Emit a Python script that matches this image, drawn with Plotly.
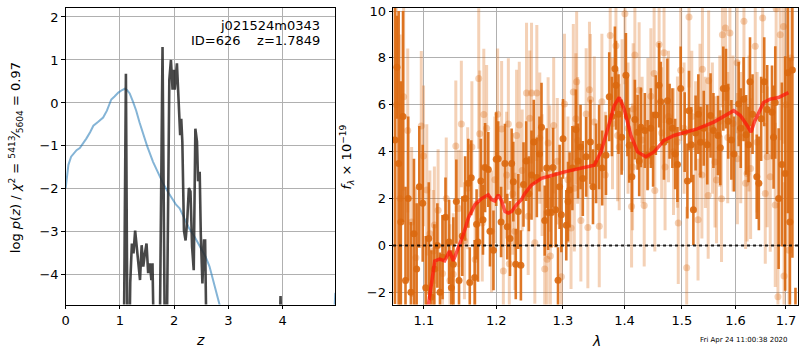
import plotly.graph_objects as go

# ---------------- Left panel: redshift PDF ----------------
z_chi = [0.0, 0.05, 0.1, 0.14, 0.2, 0.26, 0.32, 0.38, 0.45, 0.51, 0.6, 0.69, 0.76, 0.84, 0.9,
         0.97, 1.04, 1.09, 1.13, 1.18, 1.24, 1.30, 1.36, 1.42, 1.5, 1.61, 1.7, 1.79, 1.9, 2.03,
         2.1, 2.16, 2.28, 2.37, 2.46, 2.58, 2.65, 2.70, 2.77, 2.83, 2.9, 4.9, 4.94, 4.97]
logp_chi = [-1.98, -1.44, -1.25, -1.18, -1.1, -1.05, -0.95, -0.83, -0.68, -0.53, -0.44, -0.34,
            -0.18, 0.08, 0.15, 0.24, 0.3, 0.33, 0.3, 0.22, 0.03, -0.18, -0.45, -0.7, -1.0, -1.37,
            -1.6, -1.86, -2.1, -2.36, -2.45, -2.6, -2.93, -3.1, -3.3, -3.58, -3.8, -4.04, -4.35,
            -4.61, -5.0, -6.0, -4.9, -4.42]

z_pz = [0.98, 1.07, 1.11, 1.14, 1.17, 1.19, 1.22, 1.25, 1.28, 1.31, 1.34, 1.37, 1.40, 1.43, 1.46,
        1.49, 1.52, 1.55, 1.58, 1.60, 1.63, 1.73, 1.785, 1.83, 1.86, 1.91, 1.94, 1.97, 1.99, 2.01,
        2.05, 2.07, 2.11, 2.13, 2.15, 2.18, 2.21, 2.24, 2.27, 2.30, 2.33, 2.36, 2.39, 2.42, 2.44,
        2.47, 2.49, 2.52, 2.55, 2.57, 2.60, 3.93, 3.96, 3.99, 4.97]
logp_pz = [-6, -6, 0.68, -6, -6, -4.18, -3.27, -3.5, -2.97, -3.35, -3.81, -4.12, -3.31, -3.81, -3.5,
           -3.27, -3.96, -3.73, -4.12, -3.73, -6, -6, 1.3, -6, -6, 0.54, 1.0, 0.31, 0.77, 0.31,
           0.92, 0.38, -0.75, -0.37, -0.9, -2.97, -3.2, -2.74, -1.98, -2.06, -3.35, -3.89, -0.6,
           -0.9, -1.82, -1.6, -3.05, -4.2, -3.2, -3.2, -6, -6, -4.49, -6, -6]

z_ticks = [0, 1, 2, 3, 4]
logp_ticks = [-4, -3, -2, -1, 0, 1, 2]

# ---------------- Right panel: spectrum ----------------
dark_lam = [1.0625, 1.0650, 1.0672, 1.0700, 1.0728, 1.0760, 1.0795, 1.0830, 1.0870, 1.0905, 1.0940,
            1.0985, 1.1025, 1.1065, 1.1100, 1.1140, 1.1180, 1.1215, 1.1250, 1.1290, 1.1339, 1.1370,
            1.1397, 1.1438, 1.1475, 1.1520, 1.1560, 1.1604, 1.1624, 1.1645, 1.1693, 1.1720, 1.1740,
            1.1780, 1.1810, 1.1840, 1.1886, 1.1910, 1.1960, 1.2000, 1.2029, 1.2070, 1.2126, 1.2160,
            1.2200, 1.2224, 1.2249, 1.2285, 1.2322, 1.2361, 1.2400, 1.2440, 1.2480, 1.2520, 1.2554,
            1.2600, 1.2640, 1.2671, 1.2720, 1.2750, 1.2772, 1.2822, 1.2848, 1.2888, 1.2925, 1.2950,
            1.2977, 1.3003, 1.3054, 1.3081, 1.3106, 1.3150, 1.3206, 1.3240, 1.3280, 1.3316, 1.3370,
            1.3438, 1.3480, 1.3530, 1.3580, 1.3630, 1.3692, 1.3746, 1.3790, 1.3840, 1.3857, 1.3900,
            1.3952, 1.4024, 1.4050, 1.4080, 1.4125, 1.4176, 1.4222, 1.4250, 1.4279, 1.4347, 1.4394,
            1.4451, 1.4490, 1.4537, 1.4595, 1.4624, 1.4680, 1.4741, 1.4780, 1.4830, 1.4880, 1.4920,
            1.4979, 1.5051, 1.5100, 1.5129, 1.5170, 1.5209, 1.5250, 1.5300, 1.5340, 1.5400, 1.5465,
            1.5526, 1.5580, 1.5665, 1.5710, 1.5766, 1.5817, 1.5860, 1.5920, 1.5970, 1.6060, 1.6100,
            1.6155, 1.6204, 1.6250, 1.6280, 1.6330, 1.6413, 1.6454, 1.6500, 1.6561, 1.6620, 1.6716,
            1.6748, 1.6782, 1.6850, 1.6916, 1.6983, 1.7037, 1.7080, 1.7131, 1.7195]
dark_flux = [4.5, 7.6, 3.5, 1.0, 5.5, -1.5, 2.0, -2.0, 0.5, -1.0, 2.5,
             1.8, -1.8, 0.3, -2.2, -1.0, 0.0, -2.0, -0.5, 1.2, 0.15, -1.8,
             -0.8, 1.87, -1.5, 0.4, 2.0, 2.65, -1.58, 2.89, -1.37, 0.9, 0.15,
             2.75, 1.1, 3.32, 3.24, 0.6, -0.21, 3.68, 3.7, 1.0, 3.49, 0.8,
             0.3, 3.49, 2.72, -0.8, 1.45, -0.85, 2.6, 3.6, 2.2, 3.0, 4.41,
             2.9, 3.9, 5.04, 1.06, 3.3, 1.41, 1.41, 3.32, 1.52, -1.48, 2.5,
             1.31, 4.55, 0.86, 1.87, 2.37, 3.3, 4.95, 3.6, 4.2, 2.86, 3.78,
             4.41, 2.5, 3.5, 4.2, 3.3, 3.85, 6.34, 5.5, 7.54, 6.83, 5.6,
             4.62, 7.26, 5.5, 4.27, 2.93, 5.37, 4.83, 3.6, 5.04, 4.9, 3.85,
             5.0, 4.1, 5.56, 6.83, 6.13, 4.4, 6.17, 5.3, 5.0, 3.9, 3.45,
             6.69, 4.83, 2.75, 5.75, 4.3, 1.52, 4.8, 5.6, 4.4, 5.0, 4.3,
             5.54, 4.9, 4.69, 4.17, 6.69, 6.69, 5.3, 4.5, 3.9, 6.03, 5.0,
             6.24, 4.72, 4.3, 6.98, 5.6, 2.93, 2.65, 5.4, 6.98, 5.8, 5.68,
             4.62, 6.1, 2.0, 3.45, 3.07, 7.37, 1.0, 7.48, -3.5]
dark_err = [7.0, 2.2, 6.5, 6.0, 4.5, 4.0, 3.5, 3.0, 3.2, 2.8, 2.6,
            2.5, 2.2, 2.4, 2.0, 1.9, 1.8, 1.7, 1.8, 1.7, 1.8, 1.6,
            2.0, 1.8, 1.5, 1.7, 1.8, 1.9, 1.5, 1.6, 1.6, 1.5, 1.7,
            1.8, 1.5, 1.9, 1.6, 1.5, 1.7, 2.0, 1.6, 1.5, 1.7, 1.4,
            1.6, 1.5, 1.7, 1.5, 1.6, 1.5, 1.8, 1.7, 1.6, 1.9, 1.8,
            1.7, 1.6, 1.9, 1.5, 1.7, 1.6, 1.5, 1.7, 1.6, 1.4, 1.8,
            1.6, 1.7, 1.5, 1.7, 1.6, 1.8, 1.7, 1.6, 1.8, 1.6, 1.7,
            1.8, 1.6, 1.7, 1.8, 1.6, 1.7, 1.9, 1.7, 1.8, 1.9, 1.7,
            1.6, 1.8, 1.7, 1.6, 1.5, 1.7, 1.6, 1.5, 1.7, 1.6, 1.5,
            1.7, 1.6, 1.7, 1.8, 1.7, 1.6, 1.8, 1.6, 1.7, 1.5, 1.6,
            1.8, 1.7, 1.6, 1.7, 1.6, 1.5, 1.6, 1.7, 1.5, 1.6, 1.7,
            1.8, 1.6, 1.7, 1.6, 1.8, 1.7, 1.6, 1.7, 1.6, 1.8, 1.7,
            1.8, 1.7, 1.6, 1.9, 1.7, 1.8, 2.0, 1.8, 1.9, 1.9, 2.0,
            2.2, 2.4, 3.0, 3.5, 5.0, 6.0, 7.0, 8.0, 1.7]

light_lam = [1.0640, 1.0690, 1.0736, 1.0789, 1.0840, 1.0895, 1.0966, 1.0996, 1.1039, 1.1080, 1.1127,
             1.1140, 1.1190, 1.1250, 1.1300, 1.1350, 1.1396, 1.1431, 1.1470, 1.1507, 1.1550, 1.1595,
             1.1654, 1.1700, 1.1750, 1.1764, 1.1800, 1.1822, 1.1862, 1.1933, 1.1980, 1.2020, 1.2078,
             1.2103, 1.2150, 1.2176, 1.2190, 1.2240, 1.2273, 1.2297, 1.2337, 1.2380, 1.2445, 1.2470,
             1.2494, 1.2520, 1.2570, 1.2600, 1.2645, 1.2680, 1.2720, 1.2757, 1.2772, 1.2797, 1.2807,
             1.2858, 1.2914, 1.2977, 1.3026, 1.3080, 1.3129, 1.3165, 1.3181, 1.3206, 1.3218, 1.3234,
             1.3285, 1.3370, 1.3397, 1.3423, 1.3438, 1.3501, 1.3582, 1.3625, 1.3680, 1.3762, 1.3800,
             1.3857, 1.3885, 1.3912, 1.3960, 1.4007, 1.4060, 1.4120, 1.4137, 1.4147, 1.4176, 1.4249,
             1.4300, 1.4336, 1.4400, 1.4451, 1.4508, 1.4520, 1.4595, 1.4640, 1.4682, 1.4700, 1.4760,
             1.4850, 1.4920, 1.4935, 1.4979, 1.5040, 1.5087, 1.5129, 1.5180, 1.5250, 1.5294, 1.5330,
             1.5365, 1.5375, 1.5430, 1.5482, 1.5491, 1.5560, 1.5609, 1.5638, 1.5700, 1.5732, 1.5749,
             1.5807, 1.5850, 1.5892, 1.5950, 1.6030, 1.6035, 1.6100, 1.6162, 1.6194, 1.6223, 1.6260,
             1.6292, 1.6383, 1.6420, 1.6530, 1.6582, 1.6620, 1.6681, 1.6782, 1.6800, 1.6836, 1.6882,
             1.6949, 1.6960, 1.7000, 1.7063, 1.7100]
light_flux = [6.0, 2.0, 6.34, 4.9, 1.0, -0.52, 5.09, 3.82, 2.37, 0.5, -0.24,
              0.87, 1.5, -1.2, 2.0, -1.5, -1.23, 4.24, 1.58, 5.18, 0.2, 2.44,
              4.2, -0.6, 7.12, 4.76, 0.96, 5.59, 5.0, 0.6, 2.8, 5.6, 4.97,
              -1.09, 3.0, 5.18, -0.78, 2.2, 0.6, 4.69, 5.14, 3.2, 6.5, 1.24,
              5.42, 6.5, 0.11, 6.5, 4.58, 3.0, -1.01, -0.59, 4.37, 3.28, -0.45,
              5.12, 3.59, -1.34, 6.03, 2.8, 0.74, 6.55, 2.44, 5.4, 6.98, 4.48,
              1.06, 5.61, 0.77, 6.64, 6.22, 5.26, 0.82, 6.13, 3.0, 8.95, 5.2,
              8.52, 4.69, 4.2, 6.0, 9.88, 5.0, 1.66, 3.35, 5.82, 8.12, 6.62,
              4.5, 1.7, 5.2, 6.36, 7.33, 2.34, 8.57, 4.8, 8.22, 3.35, 5.5,
              4.0, 4.41, 0.96, 7.47, 5.0, -0.95, 9.74, 5.5, 4.2, 1.1, 5.8,
              3.0, 7.51, 4.4, 2.13, 7.02, 5.0, 3.56, 2.79, 5.3, 1.99, 8.99,
              9.27, 4.6, 9.06, 5.2, 7.79, 3.7, 4.6, 9.56, 2.65, 3.07, 5.2,
              3.28, 8.5, 4.4, 9.7, 2.22, 3.78, 2.93, 1.73, 10.1, -2.19, 8.99,
              9.34, -1.3, 6.0, -0.21, 8.0]
light_err = [8.0, 7.0, 4.0, 3.5, 3.2, 3.0, 3.2, 3.0, 2.8, 2.7, 2.6,
             2.5, 2.6, 2.5, 2.6, 2.4, 2.6, 2.8, 2.5, 2.7, 2.5, 2.6,
             2.8, 2.5, 3.0, 2.7, 2.5, 2.8, 2.7, 2.6, 2.7, 2.8, 2.9,
             2.5, 2.7, 2.8, 2.6, 2.6, 2.5, 2.8, 2.7, 2.6, 3.0, 2.5,
             2.9, 3.0, 2.6, 2.9, 2.8, 2.6, 2.5, 2.6, 2.8, 2.7, 2.5,
             2.9, 2.7, 2.6, 3.0, 2.7, 2.6, 2.9, 2.7, 2.8, 3.0, 2.7,
             2.6, 2.8, 2.6, 2.9, 2.8, 2.8, 2.6, 2.9, 2.7, 3.0, 2.8,
             3.0, 2.8, 2.7, 2.8, 3.0, 2.8, 2.6, 2.7, 2.8, 3.0, 2.9,
             2.7, 2.6, 2.8, 2.9, 3.0, 2.6, 3.0, 2.8, 3.0, 2.7, 2.8,
             2.7, 2.8, 2.6, 3.0, 2.8, 2.6, 3.0, 2.8, 2.8, 2.6, 2.8,
             2.7, 3.0, 2.8, 2.7, 3.0, 2.8, 2.8, 2.7, 2.8, 2.7, 3.1,
             3.1, 2.8, 3.1, 2.9, 3.0, 2.8, 2.8, 3.2, 2.8, 2.9, 2.9,
             3.0, 3.2, 3.0, 3.2, 3.0, 3.0, 3.2, 3.5, 4.0, 4.0, 4.5,
             5.0, 4.0, 6.0, 6.0, 7.0]

model_lam = [1.1040, 1.1062, 1.1145, 1.1211, 1.1278, 1.1345, 1.1396, 1.1465, 1.1535, 1.1604,
             1.1697, 1.1791, 1.1886, 1.1933, 1.1980, 1.2029, 1.2078, 1.2126, 1.2176, 1.2224,
             1.2297, 1.2371, 1.2420, 1.2520, 1.2671, 1.2925, 1.3026, 1.3501, 1.3610, 1.3720,
             1.3829, 1.3912, 1.3995, 1.4108, 1.4222, 1.4364, 1.4508, 1.4682, 1.4859, 1.5280,
             1.5587, 1.5964, 1.6093, 1.6223, 1.6300, 1.6365, 1.6449, 1.6548, 1.6681, 1.6847, 1.7050]
model_flux = [-3.2, -2.5, -0.66, -0.58, -0.66, -0.24, -0.66, -0.1, 0.47, 1.17,
              1.74, 2.0, 2.16, 1.96, 1.9, 2.16, 1.9, 1.45, 1.38, 1.45,
              1.74, 1.96, 2.22, 2.58, 2.86, 3.06, 3.14, 3.42, 3.99, 4.97,
              5.96, 6.31, 5.82, 4.69, 3.99, 3.78, 3.99, 4.48, 4.69, 4.97,
              5.26, 5.75, 5.54, 5.12, 4.83, 5.26, 5.68, 6.1, 6.24, 6.31, 6.52]

lam_ticks = [1.1, 1.2, 1.3, 1.4, 1.5, 1.6, 1.7]
flux_ticks = [-2, 0, 2, 4, 6, 8, 10]

# ---------------- Figure ----------------
FONT = "DejaVu Sans, Arial, sans-serif"
ORANGE = "rgb(218,104,14)"
ORANGE_L = "rgba(218,104,14,0.3)"

fig = go.Figure()

fig.add_trace(go.Scatter(x=z_chi, y=logp_chi, mode="lines",
                         line=dict(color="rgba(31,119,180,0.55)", width=2),
                         xaxis="x", yaxis="y", showlegend=False, hoverinfo="skip"))
fig.add_trace(go.Scatter(x=z_pz, y=logp_pz, mode="lines",
                         line=dict(color="rgba(40,40,40,0.85)", width=2.6),
                         xaxis="x", yaxis="y", showlegend=False, hoverinfo="skip"))

fig.add_trace(go.Scatter(x=light_lam, y=light_flux, mode="markers",
                         marker=dict(color=ORANGE_L, size=7),
                         error_y=dict(type="data", array=light_err, color=ORANGE_L,
                                      thickness=3, width=0),
                         xaxis="x2", yaxis="y2", showlegend=False, hoverinfo="skip"))
fig.add_trace(go.Scatter(x=dark_lam, y=dark_flux, mode="markers",
                         marker=dict(color=ORANGE, size=7, opacity=0.9),
                         error_y=dict(type="data", array=dark_err, color="rgba(218,104,14,0.9)",
                                      thickness=2.6, width=0),
                         xaxis="x2", yaxis="y2", showlegend=False, hoverinfo="skip"))
fig.add_trace(go.Scatter(x=model_lam, y=model_flux, mode="lines",
                         line=dict(color="rgba(255,20,10,0.72)", width=3.5),
                         xaxis="x2", yaxis="y2", showlegend=False, hoverinfo="skip"))

# dotted zero line
fig.add_shape(type="line", xref="x2 domain", x0=0, x1=1, yref="y2", y0=0, y1=0,
              line=dict(color="rgba(0,0,0,0.85)", width=2, dash="dot"), layer="above")

axis_common = dict(showgrid=True, gridcolor="#b0b0b0", gridwidth=1, zeroline=False,
                   showline=True, linecolor="black", linewidth=1, mirror=True,
                   ticks="outside", ticklen=3.5, tickcolor="black", tickwidth=1,
                   ticklabeloverflow="allow",
                   tickfont=dict(family=FONT, size=13, color="black"))

y_dom = [1 - 304 / 350, 1 - 4 / 350]

fig.update_layout(
    width=800, height=350,
    margin=dict(l=0, r=0, t=0, b=0),
    paper_bgcolor="white", plot_bgcolor="white",
    font=dict(family=FONT, color="black"),
    xaxis=dict(domain=[62 / 800, 333 / 800], range=[0, 4.97], tickvals=z_ticks,
               ticktext=[str(v) for v in z_ticks], anchor="y", **axis_common),
    yaxis=dict(domain=y_dom, range=[-4.69, 2.21], tickvals=logp_ticks,
               ticktext=[("−" + str(-v)) if v < 0 else str(v) for v in logp_ticks],
               anchor="x", **axis_common),
    xaxis2=dict(domain=[391 / 800, 798 / 800], type="log",
                range=[0.02531, 0.23672], tickvals=lam_ticks,
                ticktext=[f"{v:.1f}" for v in lam_ticks], anchor="y2", **axis_common),
    yaxis2=dict(domain=y_dom, range=[-2.52, 10.13], tickvals=flux_ticks,
                ticktext=[("−" + str(-v)) if v < 0 else str(v) for v in flux_ticks],
                anchor="x2", **axis_common),
)

ann = [
    dict(text="j021524m0343", x=320, y=22),
    dict(text="ID=626    z=1.7849", x=320, y=37),
]
for a in ann:
    fig.add_annotation(text=a["text"], xref="paper", yref="paper",
                       x=a["x"] / 800, y=1 - a["y"] / 350, xanchor="right", yanchor="middle",
                       showarrow=False, font=dict(family=FONT, size=13, color="black"))

fig.add_annotation(text="log <i>p</i>(<i>z</i>) / <i>χ</i><sup>2</sup> = <sup>5413</sup>⁄<sub>5604</sub> = 0.97",
                   xref="paper", yref="paper", x=12 / 800, y=1 - 155 / 350,
                   textangle=-90, showarrow=False, xanchor="center", yanchor="middle",
                   font=dict(family=FONT, size=13, color="black"))
fig.add_annotation(text="<i>f</i><sub><i>λ</i></sub> × 10<sup>−19</sup>",
                   xref="paper", yref="paper", x=345 / 800, y=1 - 155 / 350,
                   textangle=-90, showarrow=False, xanchor="center", yanchor="middle",
                   font=dict(family=FONT, size=13, color="black"))
fig.add_annotation(text="<i>z</i>", xref="paper", yref="paper", x=197 / 800, y=1 - 340 / 350,
                   showarrow=False, xanchor="center", yanchor="middle",
                   font=dict(family=FONT, size=14, color="black"))
fig.add_annotation(text="<i>λ</i>", xref="paper", yref="paper", x=595 / 800, y=1 - 341 / 350,
                   showarrow=False, xanchor="center", yanchor="middle",
                   font=dict(family=FONT, size=14, color="black"))
fig.add_annotation(text="Fri Apr 24 11:00:38 2020", xref="paper", yref="paper",
                   x=744 / 800, y=1 - 340 / 350, showarrow=False, xanchor="center",
                   yanchor="middle", font=dict(family=FONT, size=7, color="black"))

fig.write_html("out.html", config={"displayModeBar": False},
               post_script="document.body.style.margin='0';document.body.style.padding='0';"
                           "document.documentElement.style.overflow='hidden';")
